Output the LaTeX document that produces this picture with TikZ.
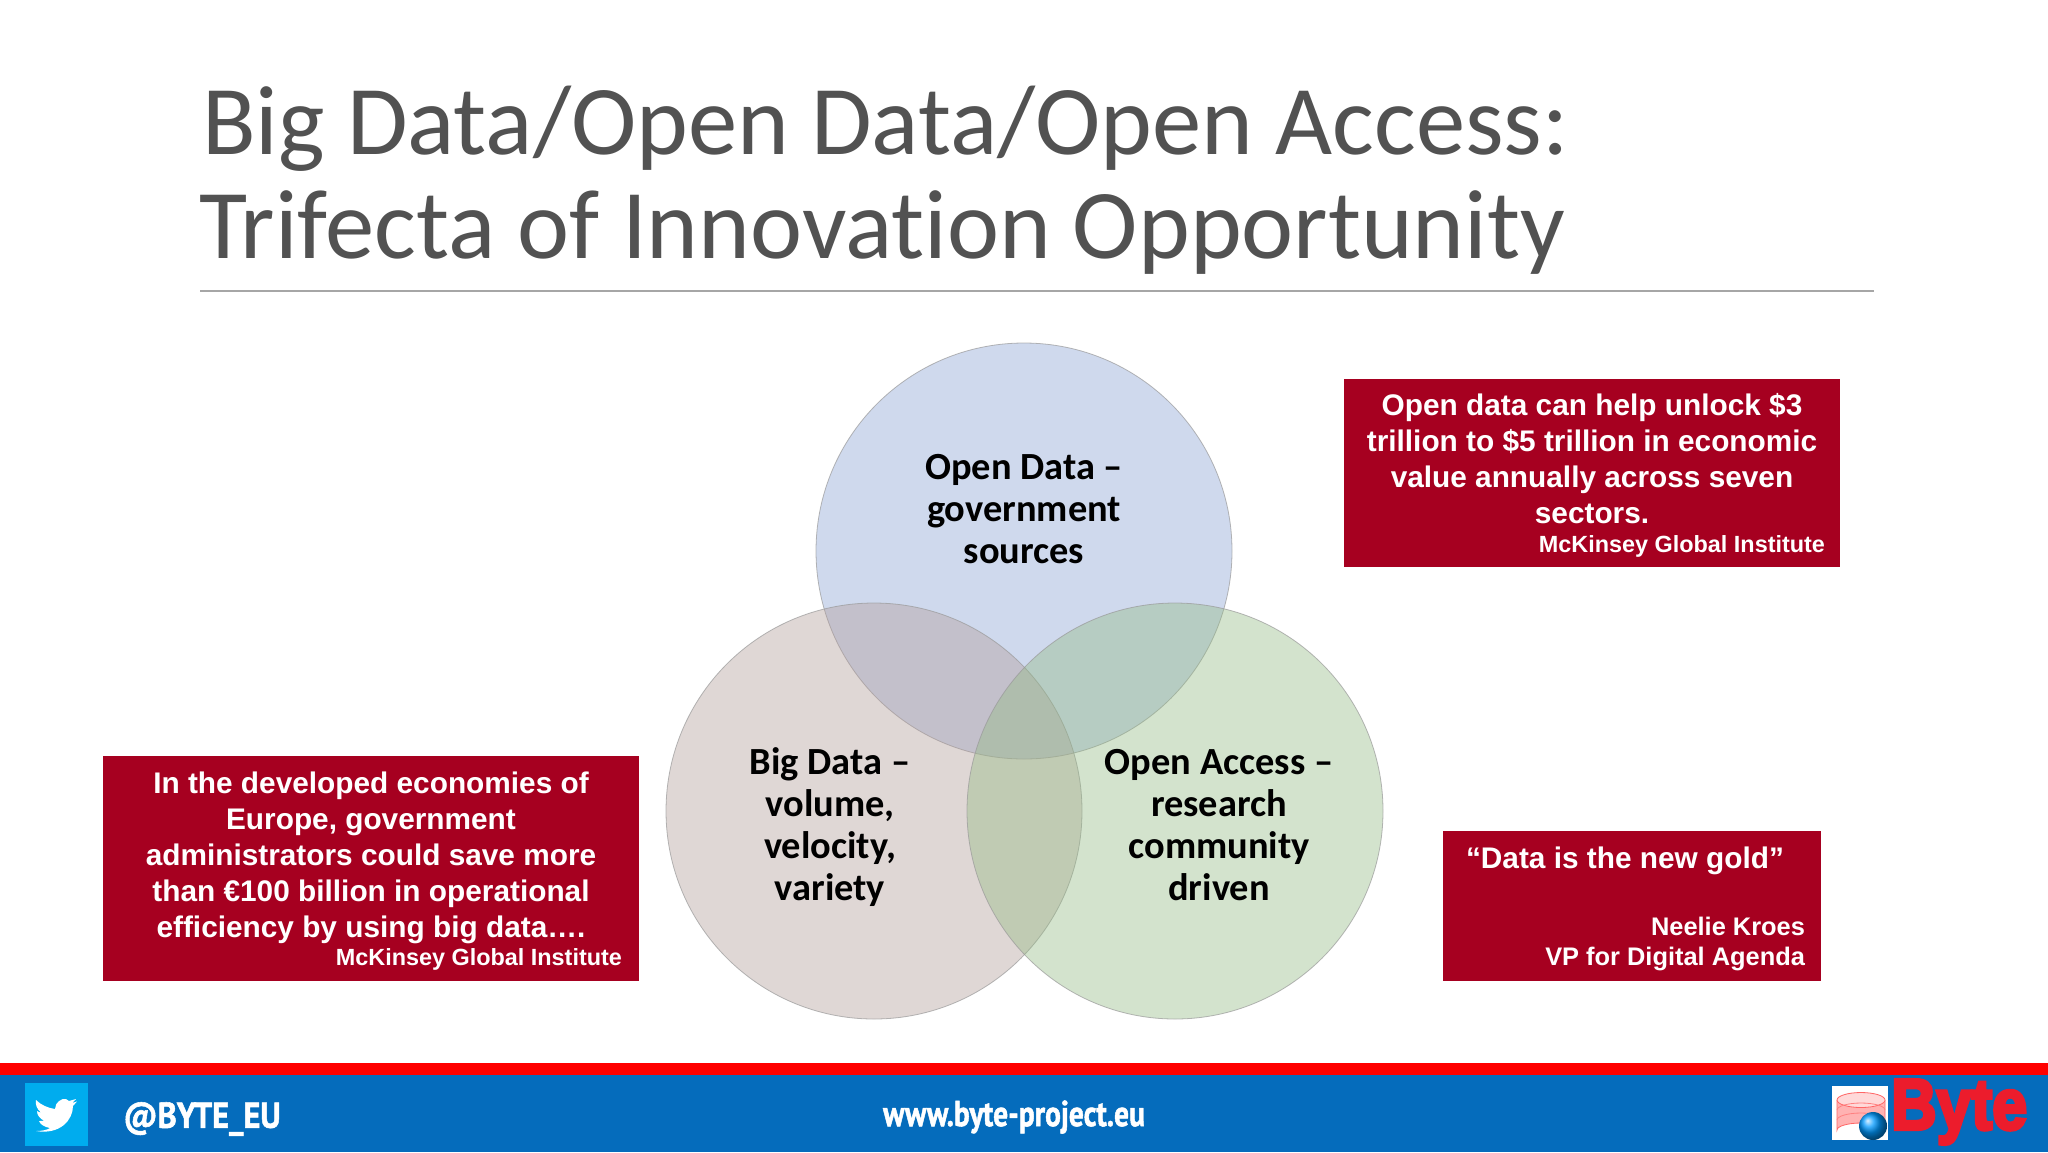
\documentclass[tikz,border=0pt]{standalone}
\usepackage{fontspec}
\setmainfont[Ligatures={TeX,NoCommon}]{Carlito}
\newfontfamily\boxfont{Liberation Sans}
\newfontfamily\footfont[FakeBold=1.5]{PT Sans}
\newfontfamily\logofont[FakeBold=5]{Liberation Sans}
\definecolor{slidegray}{RGB}{82,82,82}
\definecolor{boxred}{RGB}{166,0,32}
\definecolor{footblue}{RGB}{5,108,188}
\definecolor{twitblue}{RGB}{0,172,238}
\definecolor{logored}{RGB}{236,28,44}
\definecolor{opendata}{RGB}{135,160,210}
\definecolor{bigdata}{RGB}{177,155,152}
\definecolor{openaccess}{RGB}{146,185,130}
\tikzset{
  venn/.style={circle, minimum size=208pt, inner sep=0pt, draw=black!40, line width=0.4pt, fill opacity=0.4, draw opacity=0.7},
  vennlabel/.style={align=center, font=\fontsize{19.2}{21}\selectfont\bfseries, text=black},
  redbox/.style={fill=boxred, inner sep=0pt},
  quote/.style={align=center, text=white, font=\boxfont\fontsize{14.9}{18}\selectfont\bfseries},
  source/.style={anchor=east, text=white, font=\boxfont\fontsize{11.7}{14}\selectfont\bfseries},
  person/.style={source, font=\boxfont\fontsize{12.7}{16}\selectfont\bfseries},
  foot/.style={text=white, font=\footfont\fontsize{18}{20}\selectfont\bfseries}
}
\begin{document}
\begin{tikzpicture}[x=0.5pt, y=-0.5pt]
\useasboundingbox[fill=white] (0,0) rectangle (2048,1152);
% title
\node[anchor=west, text=slidegray, font=\fontsize{49.3}{52}\selectfont] (line1) at (195,129) {Big Data/Open Data/Open Access:};
\node[anchor=west, text=slidegray, font=\fontsize{49.3}{52}\selectfont] (line2) at (192,233) {Trifecta of Innovation Opportunity};
\coordinate (ruleL) at (200,291);
\coordinate (ruleR) at (1874,291);
\draw[black!35, line width=0.7pt] (ruleL) -- (ruleR);
% venn
\node[venn, fill=opendata] (OD) at (1024,551) {};
\node[venn, fill=bigdata] (BD) at (874,811) {};
\node[venn, fill=openaccess] (OA) at (1175,811) {};
\node[vennlabel] (ODtext) at (1024,509) {Open Data --\\government\\sources};
\node[vennlabel] (BDtext) at (830,827) {Big Data --\\volume,\\velocity,\\variety};
\node[vennlabel] (OAtext) at (1219,825) {Open Access --\\research\\community\\driven};
% red boxes
\path[redbox] (1344,379) rectangle (1840,567);
\node[quote] (unlock) at (1592,459) {Open data can help unlock \$3\\trillion to \$5 trillion in economic\\value annually across seven\\sectors.};
\node[source] (mck1) at (1832,546) {McKinsey Global Institute};
\path[redbox] (103,756) rectangle (639,981);
\node[quote] (save) at (371,858) {In the developed economies of\\Europe, government\\administrators could save more\\than €100 billion in operational\\efficiency by using big data….};
\node[source] (mck2) at (629,959) {McKinsey Global Institute};
\path[redbox] (1443,831) rectangle (1821,981);
\node[quote] (gold) at (1625,861) {“Data is the new gold”};
\node[person] (kroes) at (1812,926) {Neelie Kroes};
\node[person] (vp) at (1812,959) {VP for Digital Agenda};
% footer
\fill[footblue] (0,1075) rectangle (2048,1152);
\fill[red] (0,1063) rectangle (2048,1075);
\fill[twitblue] (25,1083) rectangle (88,1146);
\fill[white] (36,1100) .. controls (41,1105) and (48,1108) .. (55,1109)
  .. controls (55,1102) and (62,1098) .. (66,1099) -- (69,1101) -- (76,1099) -- (72,1103) -- (77,1101.5) -- (73,1106)
  .. controls (73,1120) and (60,1135) .. (36,1131)
  .. controls (42,1131) and (47,1130) .. (50,1128)
  .. controls (44,1127) and (40,1124) .. (39,1121)
  .. controls (41,1121) and (43,1121) .. (44,1120.5)
  .. controls (40,1119) and (37,1115) .. (37,1111)
  .. controls (38.5,1112) and (40,1112.5) .. (41,1112.5)
  .. controls (37,1109.5) and (35,1104) .. (36,1100) -- cycle;
\node[foot, anchor=west, xscale=0.9] (handle) at (117,1119) {@BYTE\_EU};
\node[foot, xscale=0.82] (site) at (1014,1117) {www.byte-project.eu};
% logo
\fill[white] (1832,1086) rectangle (1888,1140);
\draw[red!60, fill=red!30] (1837,1100) -- (1837,1130) arc[start angle=180, end angle=360, x radius=24, y radius=7] -- (1885,1100);
\draw[red!60, fill=red!15] (1861,1100) ellipse[x radius=24, y radius=7.5];
\draw[red!50] (1837,1110) arc[start angle=180, end angle=360, x radius=24, y radius=7];
\draw[red!50] (1837,1120) arc[start angle=180, end angle=360, x radius=24, y radius=7];
\shade[ball color=cyan!60!blue] (1873,1126) circle[radius=14];
\node[text=logored, font=\logofont\fontsize{36}{36}\selectfont\bfseries, anchor=west, inner sep=0pt, xscale=0.87] (byte) at (1891,1112) {Byte};
\end{tikzpicture}
\end{document}
